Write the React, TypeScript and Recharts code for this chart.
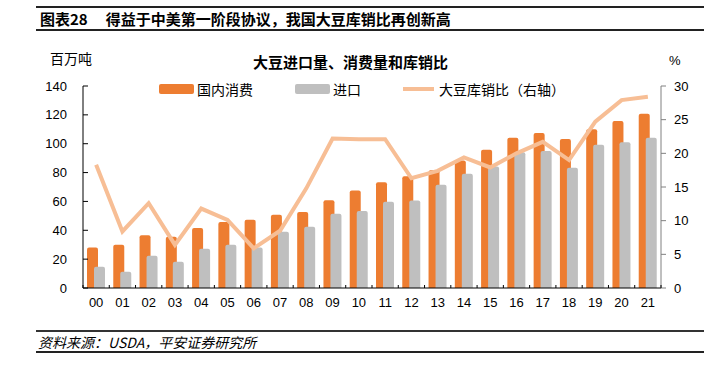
import React from "react";
import { ComposedChart, Bar, Line, XAxis, YAxis } from "recharts";

const years = ["00","01","02","03","04","05","06","07","08","09","10","11","12","13","14","15","16","17","18","19","20","21"];
const consumption = [28, 30, 36.5, 35.5, 41.5, 45.7, 47.3, 50.7, 52.6, 60.9, 67.6, 73.3, 77.5, 81.6, 88.3, 95.9, 104.2, 107.5, 103.3, 110, 115.8, 120.8];
const imports = [14.8, 11.3, 22.4, 18.2, 27.2, 30, 28, 39, 42.4, 51.4, 53.3, 59.7, 60.7, 71.5, 79.1, 84.2, 94.1, 95, 83.3, 99.2, 101, 104.2];
const stockRatio = [18.3, 8.4, 12.6, 6.4, 11.8, 10.1, 5.9, 8.5, 14.8, 22.2, 22.1, 22.1, 16.3, 17.4, 19.4, 17.9, 20.0, 21.7, 19.0, 24.7, 27.9, 28.4];
const leftTicks = [0, 20, 40, 60, 80, 100, 120, 140];
const rightTicks = [0, 5, 10, 15, 20, 25, 30];

const data = years.map((y, i) => ({ year: y, consumption: consumption[i], imports: imports[i], ratio: stockRatio[i] }));

const ORANGE = "#ED7D31";
const GRAY = "#BFBFBF";
const LINE = "#F7BE95";
const FONT = '"Liberation Sans", Arial, "Noto Sans CJK SC", sans-serif';
const CJK = '"Noto Sans CJK SC", "Liberation Sans", sans-serif';

const W = 722;
const H = 368;
const M = { top: 86, right: 21, bottom: 50, left: 0 };
const LEFT_W = 83;
const RIGHT_W = 40;
const PLOT_W = W - M.left - M.right - LEFT_W - RIGHT_W;
const BAND = PLOT_W / years.length;

const XTick = (props: any) => {
  const { x, y, payload, index } = props;
  const axisY = y - 10;
  const last = index === years.length - 1;
  return (
    <g>
      <line x1={x - BAND / 2} x2={x - BAND / 2} y1={axisY} y2={axisY - 3} stroke="#000" strokeWidth={1} />
      {last && <line x1={x + BAND / 2} x2={x + BAND / 2} y1={axisY} y2={axisY - 3} stroke="#000" strokeWidth={1} />}
      <text x={x} y={y} dy="0.71em" textAnchor="middle" fontSize={13} fontFamily={FONT} fill="#000">{payload.value}</text>
    </g>
  );
};

const legendItems = [
  { label: "国内消费", color: ORANGE, kind: "bar", left: 159 },
  { label: "进口", color: GRAY, kind: "bar", left: 295 },
  { label: "大豆库销比（右轴）", color: LINE, kind: "line", left: 403 },
];

const LegendBox = () => (
  <div style={{ position: "absolute", left: 0, top: 79, width: W, height: 20 }}>
    {legendItems.map((it) => (
      <div key={it.label} style={{ position: "absolute", left: it.left, top: 0, height: 20, display: "flex", alignItems: "center", whiteSpace: "nowrap" }}>
        {it.kind === "bar" ? (
          <span style={{ display: "inline-block", width: 35, height: 10, background: it.color, borderRadius: 2, marginRight: 3 }} />
        ) : (
          <span style={{ display: "inline-block", width: 31, height: 4, background: it.color, marginRight: 5 }} />
        )}
        <span style={{ fontFamily: CJK, fontSize: 14, color: "#000" }}>{it.label}</span>
      </div>
    ))}
  </div>
);

export default function App() {
  return (
    <div style={{ position: "absolute", left: 0, top: 0, width: W, height: H, background: "#fff", fontFamily: CJK }}>
      <div style={{ position: "absolute", left: 36, top: 6, width: 668, height: 2, background: "#222" }} />
      <div style={{ position: "absolute", left: 40, top: 9, height: 20, lineHeight: "20px", fontSize: 15, fontWeight: 700, color: "#000", whiteSpace: "nowrap" }}>
        <span>图表28</span>
        <span style={{ marginLeft: 18 }}>得益于中美第一阶段协议，我国大豆库销比再创新高</span>
      </div>
      <div style={{ position: "absolute", left: 36, top: 29, width: 668, height: 2, background: "#222" }} />

      <div style={{ position: "absolute", left: 50, top: 48, fontSize: 14, color: "#000", whiteSpace: "nowrap" }}>百万吨</div>
      <div style={{ position: "absolute", left: 253, top: 51, fontSize: 15, fontWeight: 700, color: "#000", whiteSpace: "nowrap" }}>大豆进口量、消费量和库销比</div>
      <div style={{ position: "absolute", left: 669, top: 53, fontSize: 13, fontFamily: FONT, color: "#000" }}>%</div>

      <div style={{ position: "absolute", left: 0, top: 0 }}>
        <ComposedChart width={W} height={H} data={data} margin={M} barSize={11} barGap={-4}>
          <XAxis dataKey="year" stroke="#000" tickLine={false} tickSize={0} tickMargin={10} height={30} interval={0} tick={<XTick />} />
          <YAxis yAxisId="left" orientation="left" domain={[0, 140]} ticks={leftTicks} width={LEFT_W} stroke="#000" tickSize={-5} tickMargin={21} tick={{ fontSize: 13, fontFamily: FONT, fill: "#000" }} interval={0} />
          <YAxis yAxisId="right" orientation="right" domain={[0, 30]} ticks={rightTicks} width={RIGHT_W} stroke="#808080" tickSize={5} tickMargin={8} tick={{ fontSize: 13, fontFamily: FONT, fill: "#000" }} interval={0} />
          <Bar yAxisId="left" dataKey="consumption" name="国内消费" fill={ORANGE} radius={[2, 2, 0, 0]} isAnimationActive={false} />
          <Bar yAxisId="left" dataKey="imports" name="进口" fill={GRAY} radius={[2, 2, 0, 0]} isAnimationActive={false} />
          <Line yAxisId="right" dataKey="ratio" name="大豆库销比（右轴）" type="linear" stroke={LINE} strokeWidth={4} dot={false} activeDot={false} isAnimationActive={false} />
        </ComposedChart>
      </div>

      <LegendBox />

      <div style={{ position: "absolute", left: 36, top: 330, width: 668, height: 2, background: "#333" }} />
      <div style={{ position: "absolute", left: 38, top: 333, fontSize: 14, fontStyle: "italic", color: "#000", whiteSpace: "nowrap", lineHeight: "18px" }}>资料来源：USDA，平安证券研究所</div>
      <div style={{ position: "absolute", left: 36, top: 351, width: 668, height: 2, background: "#222" }} />
    </div>
  );
}
